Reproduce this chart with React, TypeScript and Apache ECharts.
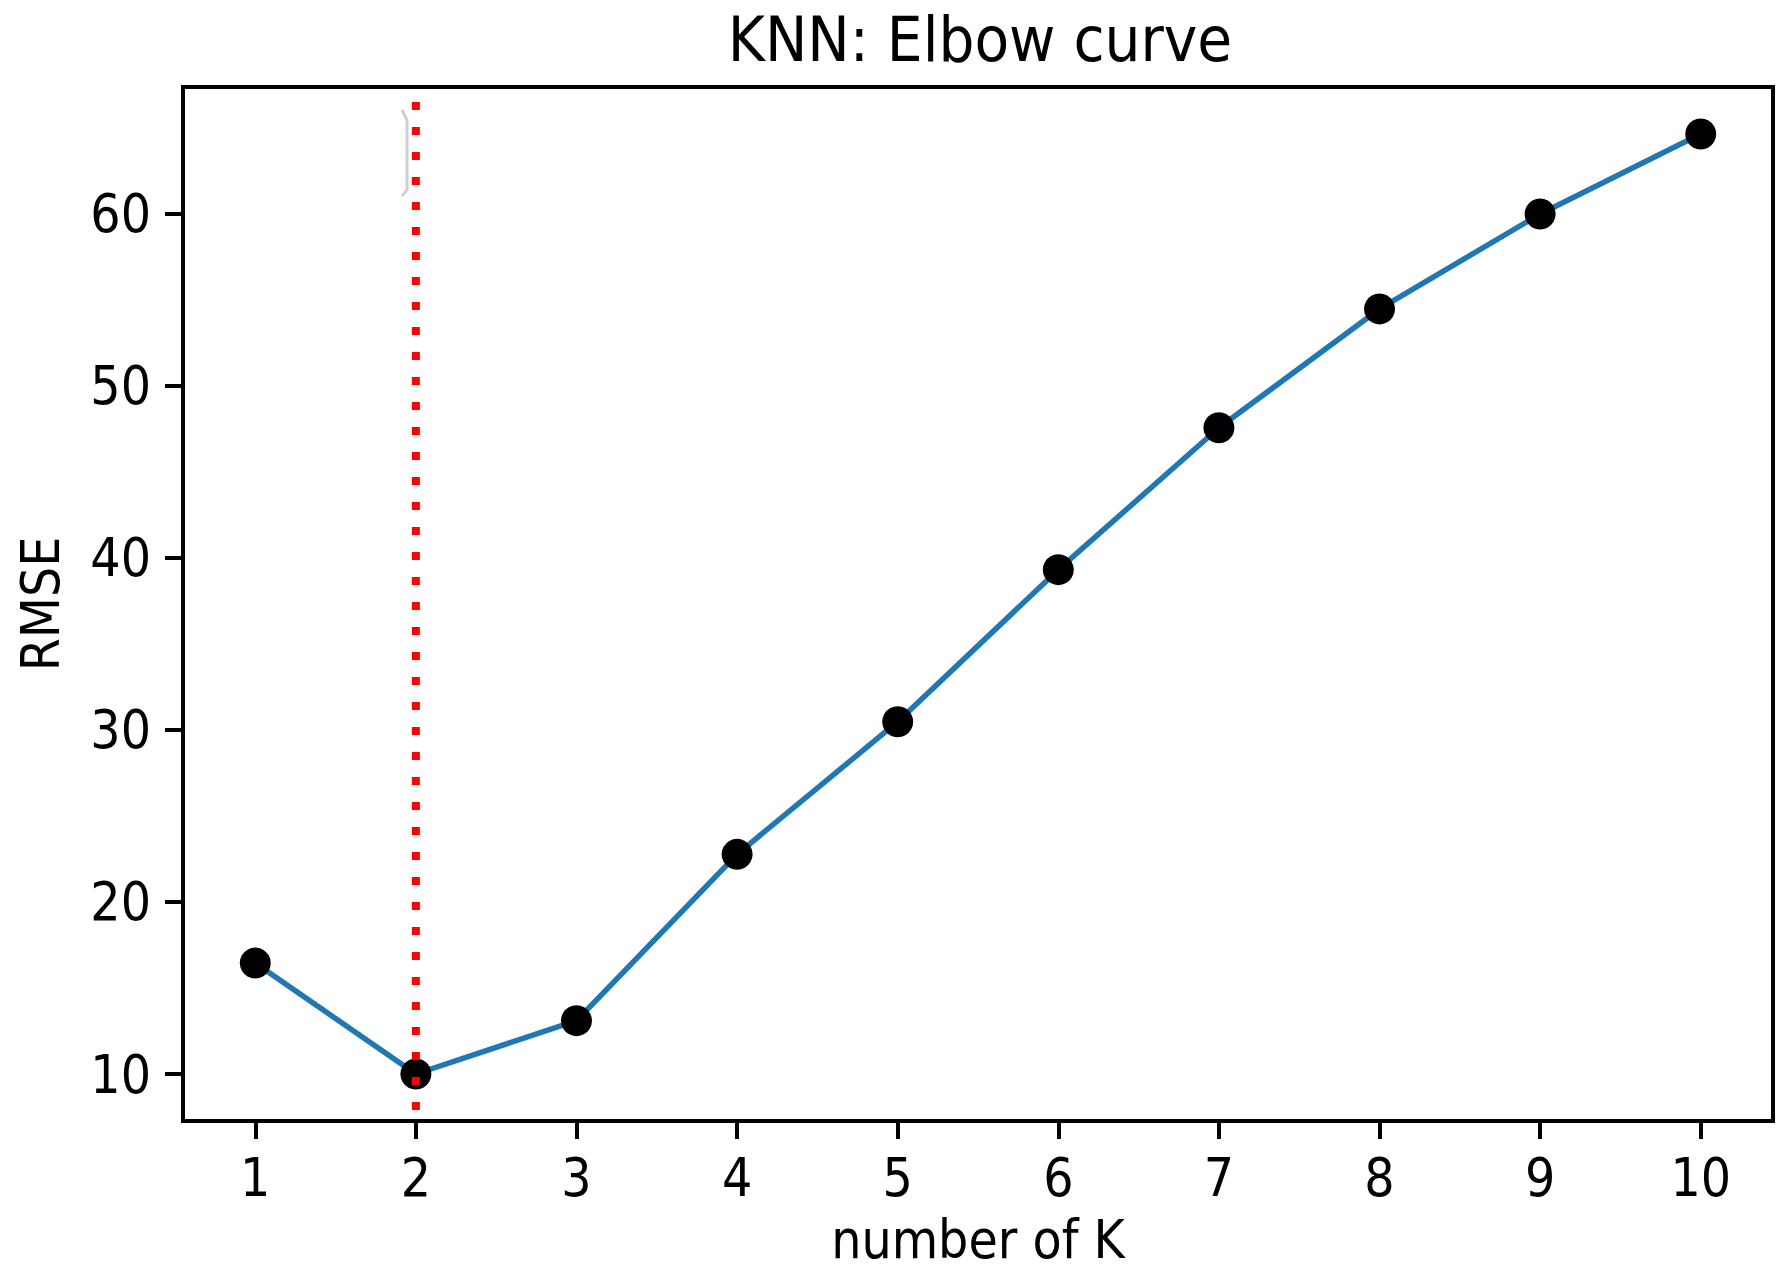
import React, { useEffect, useRef } from "react";
import * as echarts from "echarts";

const kValues = [1, 2, 3, 4, 5, 6, 7, 8, 9, 10];
const rmseValues = [16.45, 10.0, 13.1, 22.77, 30.48, 39.32, 47.57, 54.48, 60.0, 64.65];
const xTicks = [1, 2, 3, 4, 5, 6, 7, 8, 9, 10];
const yTicks = [10, 20, 30, 40, 50, 60];
const elbowK = 2;
const elbowRange = [7.9, 66.8];

const FONT = "'DejaVu Sans Condensed', 'Liberation Sans', 'DejaVu Sans', sans-serif";

export default function App() {
  const ref = useRef<HTMLDivElement>(null);
  useEffect(() => {
    document.body.style.margin = "0";
    if (!ref.current) return;
    const chart = echarts.init(ref.current, undefined, { renderer: "svg" });
    const xMin = 1 - 0.05 * 9;
    const xMax = 10 + 0.05 * 9;
    const yLo = Math.min(...rmseValues);
    const yHi = Math.max(...rmseValues);
    const ySpan = yHi - yLo;
    chart.setOption({
      animation: false,
      backgroundColor: "#ffffff",
      title: {
        text: "KNN: Elbow curve",
        left: 975,
        textAlign: "center",
        top: 3,
        textStyle: { fontFamily: FONT, fontSize: 63, fontWeight: "normal", color: "#000" },
      },
      grid: {
        left: 183,
        top: 87,
        width: 1590,
        height: 1034,
        show: true,
        borderColor: "#000",
        borderWidth: 4,
        backgroundColor: "transparent",
      },
      xAxis: {
        type: "value",
        min: xMin,
        max: xMax,
        name: "number of K",
        nameLocation: "middle",
        nameGap: 92,
        nameTextStyle: { fontFamily: FONT, fontSize: 53, color: "#000" },
        axisLine: { show: true, lineStyle: { color: "#000", width: 4 } },
        axisTick: { show: true, length: 18, lineStyle: { color: "#000", width: 4 }, customValues: xTicks },
        axisLabel: { fontFamily: FONT, fontSize: 53, color: "#000", margin: 30, customValues: xTicks },
        splitLine: { show: false },
      },
      yAxis: {
        type: "value",
        min: yLo - 0.05 * ySpan,
        max: yHi + 0.05 * ySpan,
        name: "RMSE",
        nameLocation: "middle",
        nameGap: 116,
        nameRotate: 90,
        nameTextStyle: { fontFamily: FONT, fontSize: 53, color: "#000" },
        axisLine: { show: true, lineStyle: { color: "#000", width: 4 } },
        axisTick: { show: true, length: 18, lineStyle: { color: "#000", width: 4 }, customValues: yTicks },
        axisLabel: { fontFamily: FONT, fontSize: 53, color: "#000", margin: 32, customValues: yTicks },
        splitLine: { show: false },
      },
      graphic: [
        {
          type: "polyline",
          shape: { points: [[402, 110], [407, 120], [407, 190], [402, 196]] },
          style: { stroke: "#d0d0d0", lineWidth: 3, fill: "none" },
          z: 1,
        },
      ],
      series: [
        {
          type: "line",
          data: kValues.map((k, i) => [k, rmseValues[i]]),
          symbol: "circle",
          symbolSize: 31,
          itemStyle: { color: "#000" },
          lineStyle: { color: "#1f77b4", width: 5.5 },
          z: 2,
        },
        {
          type: "line",
          data: [[elbowK, elbowRange[0]], [elbowK, elbowRange[1]]],
          symbol: "none",
          lineStyle: { color: "#ff0000", width: 8, type: [8, 17], cap: "butt" },
          z: 3,
        },
      ],
    });
    return () => chart.dispose();
  }, []);
  return <div ref={ref} style={{ width: 1791, height: 1283 }} />;
}
